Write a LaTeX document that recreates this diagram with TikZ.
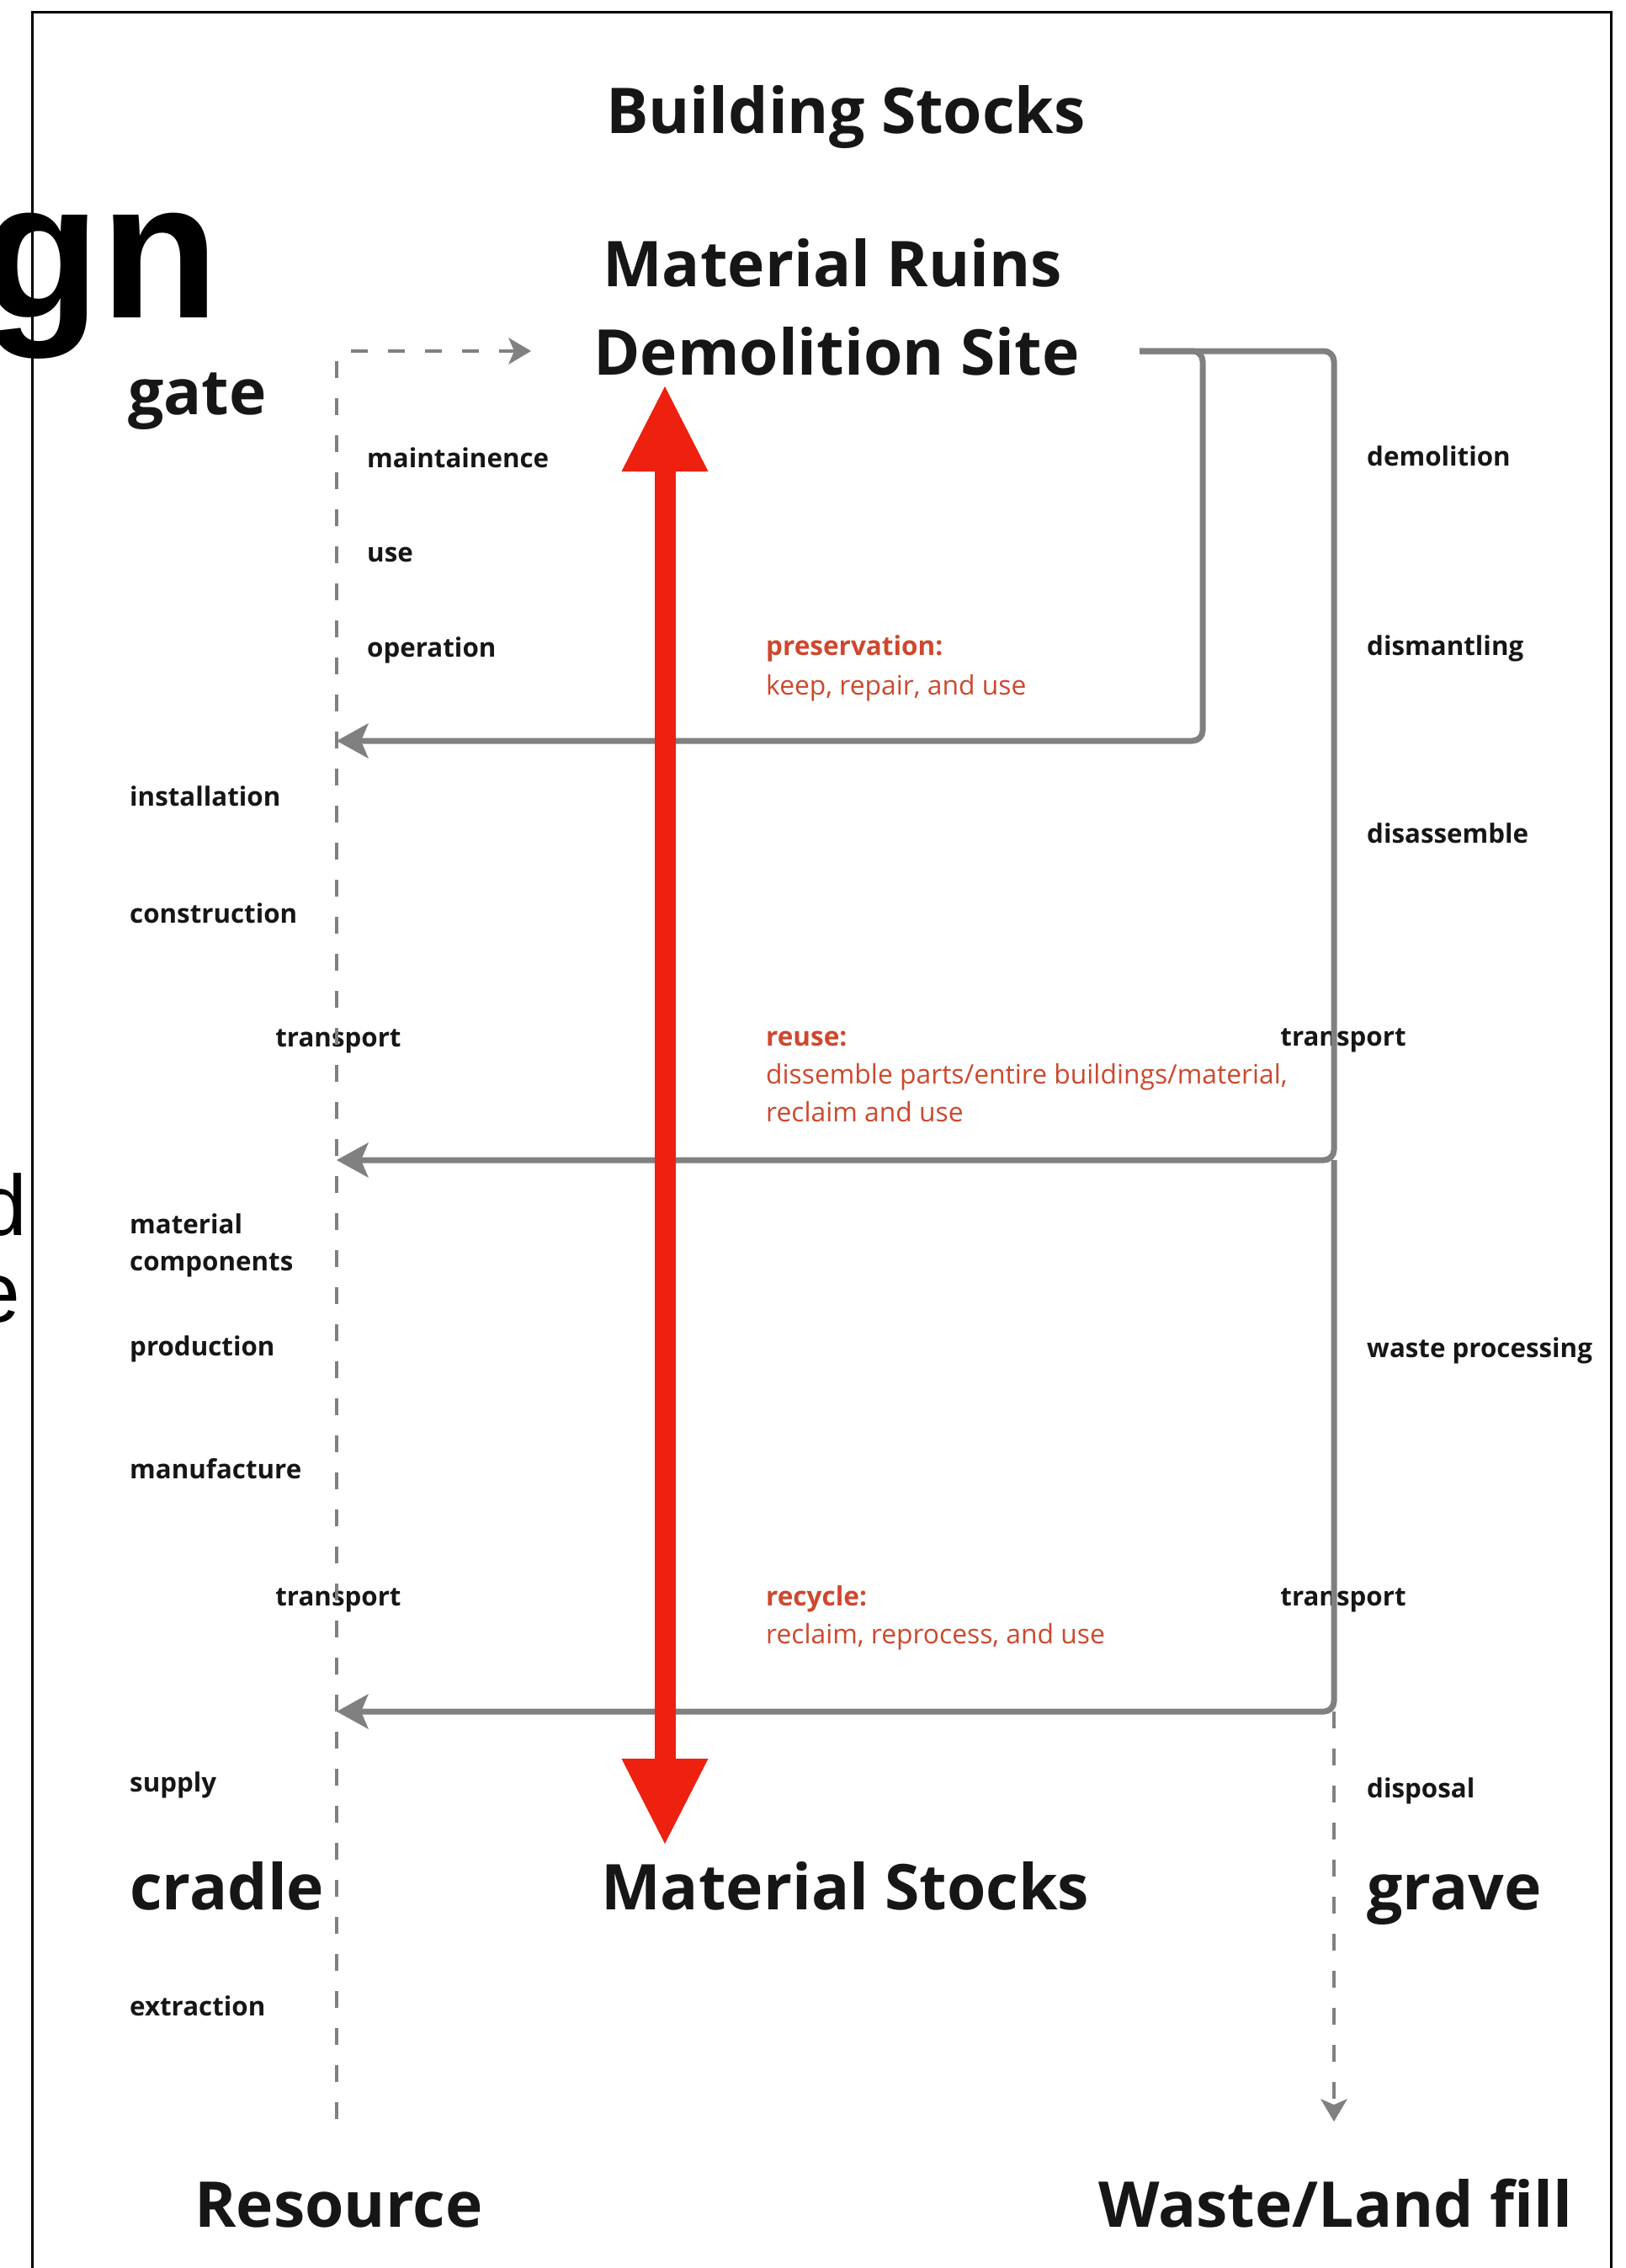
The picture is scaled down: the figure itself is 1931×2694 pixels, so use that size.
\documentclass[tikz,border=0pt]{standalone}
\usepackage{fontspec}
\setmainfont{Open Sans}
\newfontfamily\helv{Liberation Sans}
\usetikzlibrary{arrows.meta}

\definecolor{ink}{RGB}{22,22,22}
\definecolor{flowgray}{RGB}{128,128,128}
\definecolor{loopred}{RGB}{206,72,46}
\definecolor{arrowred}{RGB}{238,32,16}

\begin{document}
\begin{tikzpicture}[x=1pt,y=-1pt,
  heading/.style={font=\bfseries\fontsize{75}{90}\selectfont, text=ink, inner sep=0pt, anchor=base west},
  stage/.style={font=\bfseries\fontsize{31.3}{44}\selectfont, text=ink, inner sep=0pt, anchor=base west},
  stagemid/.style={stage, anchor=base},
  looptitle/.style={font=\bfseries\fontsize{31.5}{44}\selectfont, text=loopred, inner sep=0pt, anchor=base west},
  looptext/.style={font=\fontsize{31.8}{44}\selectfont, text=loopred, inner sep=0pt, anchor=base west},
  cutoff/.style={font=\helv, text=black, inner sep=0pt, anchor=base east},
  flow/.style={draw=flowgray, line width=7pt, rounded corners=12pt},
  flowtip/.style={-{Stealth[length=38pt,width=42pt,inset=9pt,line width'=0pt]}},
  lifeline/.style={draw=flowgray, line width=4.5pt, dash pattern=on 20pt off 24pt},
  lifetip/.style={-{Stealth[length=27pt,width=32pt,inset=7pt,line width'=0pt]}},
  bigarrow/.style={draw=arrowred, line width=25pt,
    {Triangle[length=101pt,width=103pt,line width'=0pt]}-{Triangle[length=101pt,width=103pt,line width'=0pt]}}
]
\useasboundingbox (0,0) rectangle (1931,2694);
\fill[white] (0,0) rectangle (1931,2694);

% slide frame
\draw[black, line width=3pt] (38,2694) -- (38,14) -- (1914,14) -- (1914,2694);

% slide title and body text running in from the left
\node[cutoff, font=\helv\bfseries\fontsize{231}{260}\selectfont] (title) at (261,377) {gn};
\node[cutoff, font=\helv\fontsize{102}{110}\selectfont] (bodyd) at (32,1467) {d};
\node[cutoff, font=\helv\fontsize{102}{110}\selectfont] (bodye) at (24,1570) {e};

% stock headings
\node[heading] (building) at (720,158) {Building Stocks};
\node[heading] (ruins) at (716,340) {Material Ruins};
\node[heading] (site) at (705,445) {Demolition Site};
\node[heading] (matstocks) at (714,2268) {Material Stocks};
\node[heading] (resource) at (231,2645) {Resource};
\node[heading] (landfill) at (1305,2645) {Waste/Land fill};
\node[heading] (gate) at (152,492) {gate};
\node[heading] (cradle) at (154,2268) {cradle};
\node[heading] (grave) at (1624,2268) {grave};

% life-cycle stages, left side
\node[stage] (maint) at (436,555) {maintainence};
\node[stage] (use) at (436,667) {use};
\node[stage] (oper) at (436,780) {operation};
\node[stage] (install) at (154,957) {installation};
\node[stage] (constr) at (154,1096) {construction};
\node[stagemid] (transLa) at (402,1243) {transport};
\node[stage] (material) at (154,1465) {material};
\node[stage] (compon) at (154,1509) {components};
\node[stage] (product) at (154,1610) {production};
\node[stage] (manuf) at (154,1756) {manufacture};
\node[stagemid] (transLb) at (402,1907) {transport};
\node[stage] (supply) at (154,2128) {supply};
\node[stage] (extract) at (154,2394) {extraction};

% life-cycle stages, right side
\node[stage] (demol) at (1624,553) {demolition};
\node[stage] (dismant) at (1624,778) {dismantling};
\node[stage] (disass) at (1624,1001) {disassemble};
\node[stagemid] (transRa) at (1596,1242) {transport};
\node[stage] (wasteproc) at (1624,1612) {waste processing};
\node[stagemid] (transRb) at (1596,1907) {transport};
\node[stage] (disposal) at (1624,2135) {disposal};

% loop descriptions
\node[looptitle] (pres) at (910,778) {preservation:};
\node[looptext] (presa) at (910,825) {keep, repair, and use};
\node[looptitle] (reuse) at (910,1242) {reuse:};
\node[looptext] (reusea) at (910,1287) {dissemble parts/entire buildings/material,};
\node[looptext] (reuseb) at (910,1332) {reclaim and use};
\node[looptitle] (recyc) at (910,1907) {recycle:};
\node[looptext] (recyca) at (910,1952) {reclaim, reprocess, and use};

% anchor points of the flows
\coordinate (gatetop) at (400,417);
\coordinate (gatebot) at (400,2517);
\coordinate (gatetip) at (631,417);
\coordinate (siteout) at (1354,417);
\coordinate (inner) at (1429,417);
\coordinate (outer) at (1585,417);
\coordinate (presin) at (400,880);
\coordinate (reusein) at (400,1378);
\coordinate (recycin) at (400,2033);
\coordinate (split) at (1585,1378);
\coordinate (graveend) at (1585,2033);
\coordinate (landtip) at (1585,2520);

% cradle-to-gate lifeline
\draw[lifeline, rounded corners=12pt, lifetip] (gatebot) -- (gatetop) -- (gatetip);

% grave lifeline
\draw[lifeline, lifetip] (graveend) -- (landtip);

% return loops
\draw[flow, flowtip] (siteout) -- (inner) -- (1429,880) -- (presin);
\draw[flow, flowtip] (siteout) -- (outer) -- (split) -- (reusein);
\draw[flow, flowtip] (split) -- (graveend) -- (recycin);

% material stocks versus demolition site
\draw[bigarrow] (790,459) -- (790,2190);
\end{tikzpicture}
\end{document}
